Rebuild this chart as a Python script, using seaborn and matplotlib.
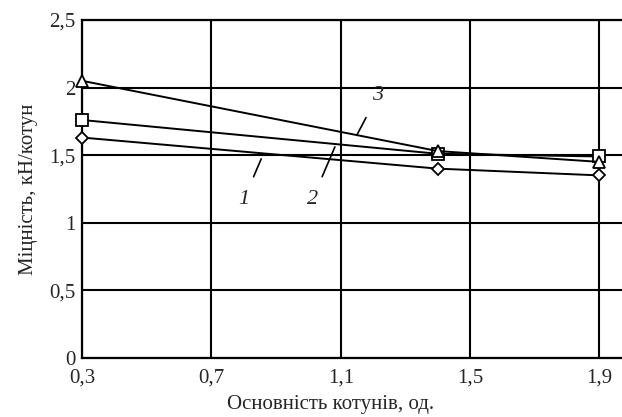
import matplotlib
matplotlib.use('Agg')
import matplotlib.pyplot as plt
import seaborn as sns
import pandas as pd

# дані з графіка
basicity = [0.3, 1.4, 1.9]
strength_1 = [1.63, 1.40, 1.35]
strength_2 = [1.76, 1.51, 1.49]
strength_3 = [2.05, 1.53, 1.45]
x_ticks = [0.3, 0.7, 1.1, 1.5, 1.9]
y_ticks = [0, 0.5, 1, 1.5, 2, 2.5]

sns.set_style('white')
plt.rcParams['font.family'] = ['Liberation Serif', 'DejaVu Serif']

df = pd.DataFrame({
    'x': basicity * 3,
    'y': strength_1 + strength_2 + strength_3,
    'curve': ['1'] * 3 + ['2'] * 3 + ['3'] * 3,
})

fig = plt.figure(figsize=(6.22, 4.17), dpi=100)
ax = fig.add_axes([0.132, 0.142, 0.868, 0.81])

markers = {'1': 'D', '2': 's', '3': '^'}
sizes = {'1': 6, '2': 8, '3': 8}
for c, g in df.groupby('curve'):
    sns.lineplot(data=g, x='x', y='y', ax=ax, color='black', lw=1.4,
                 marker=markers[c], ms=sizes[c], mfc='white', mec='black',
                 mew=1.3, legend=False, zorder=3, clip_on=False)

ax.set_xlim(0.3, 1.97)
ax.set_ylim(0, 2.5)
ax.set_xticks(x_ticks)
ax.set_yticks(y_ticks)
ax.set_xticklabels([str(v).replace('.', ',') for v in x_ticks], fontsize=15)
ax.set_yticklabels([('%g' % v).replace('.', ',') for v in y_ticks], fontsize=15)
ax.grid(True, color='black', lw=1.5)
for s in ['left', 'bottom', 'top']:
    ax.spines[s].set_color('black')
    ax.spines[s].set_linewidth(1.6)
ax.spines['right'].set_visible(False)
ax.tick_params(axis='x', length=0, pad=8)
ax.tick_params(axis='y', length=0, pad=5)

ax.set_xlabel('Основність котунів, од.', fontsize=15)
ax.xaxis.set_label_coords(0.461, -0.11)
ax.set_ylabel('Міцність, кН/котун', fontsize=15, labelpad=8)

# підписи кривих
lbl = dict(fontsize=16, style='italic', ha='center', va='center')
ax.annotate('1', xy=(0.854, 1.472), xytext=(0.80, 1.17),
            arrowprops=dict(arrowstyle='-', color='black', lw=1.2, shrinkA=8, shrinkB=0), **lbl)
ax.annotate('2', xy=(1.082, 1.561), xytext=(1.012, 1.17),
            arrowprops=dict(arrowstyle='-', color='black', lw=1.2, shrinkA=8, shrinkB=0), **lbl)
ax.annotate('3', xy=(1.15, 1.649), xytext=(1.215, 1.945),
            arrowprops=dict(arrowstyle='-', color='black', lw=1.2, shrinkA=8, shrinkB=0), **lbl)

fig.savefig('out.png', dpi=100)
